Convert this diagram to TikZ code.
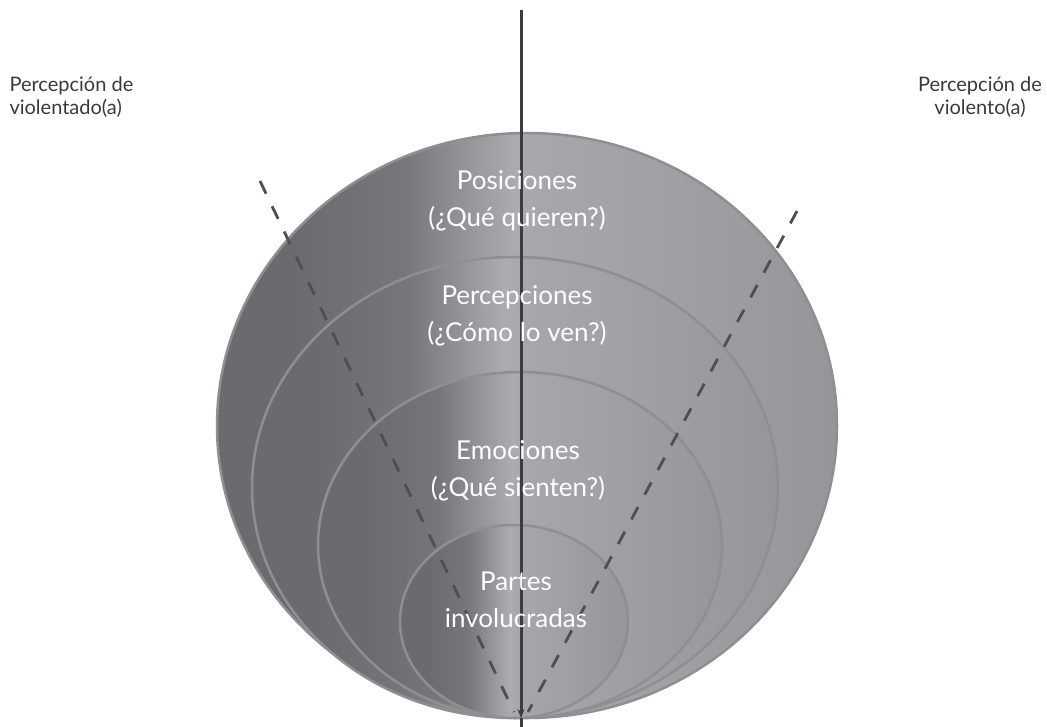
\documentclass[tikz,border=0pt]{standalone}
\usepackage{fontspec}
\setmainfont{Lato}
\usetikzlibrary{arrows.meta}
\definecolor{shA}{HTML}{6A6B6F}
\definecolor{shB}{HTML}{76777B}
\definecolor{shC}{HTML}{ABACB0}
\definecolor{shD}{HTML}{A6A7AB}
\definecolor{shE}{HTML}{9FA0A4}
\definecolor{shF}{HTML}{95969A}
\definecolor{ringc}{HTML}{8E8F93}
\definecolor{linec}{HTML}{3C3C3E}
\definecolor{dashc}{HTML}{4F4F52}
\definecolor{txtc}{HTML}{3A3A3C}
\pgfdeclarehorizontalshading{layershade}{100bp}{color(0bp)=(shA); color(25bp)=(shA); color(31bp)=(shA); color(40bp)=(shB); color(49bp)=(shC); color(51bp)=(shD); color(62bp)=(shE); color(75bp)=(shF); color(100bp)=(shF)}
\begin{document}
\begin{tikzpicture}[x=1pt,y=-1pt,
  layer/.style={draw=ringc, line width=2.5pt, shading=layershade},
  vline/.style={draw=linec, line width=3pt},
  dline/.style={draw=dashc, line width=2.8pt, dash pattern=on 14pt off 14pt},
  intext/.style={text=white, align=center, font=\fontsize{26}{37}\selectfont},
  side/.style={text=txtc, font=\fontsize{20}{23}\selectfont}
]
\useasboundingbox (0,0) rectangle (1047,727);
% nested layers
\path[layer] (527,425.5) ellipse [x radius=310pt, y radius=292.5pt];
\path[layer] (515,487.5) ellipse [x radius=263pt, y radius=230.5pt];
\path[layer] (520,545) ellipse [x radius=202pt, y radius=173pt];
\path[layer] (514,621.5) ellipse [x radius=114pt, y radius=96.5pt];
% dashed lines
\coordinate (dlt) at (260,181);
\coordinate (dlb) at (514,712);
\coordinate (drt) at (797,211);
\coordinate (drb) at (528,712);
\draw[dline] (dlt) -- (dlb);
\draw[dline] (drt) -- (drb);
% vertical axis
\coordinate (vtop) at (521,10);
\coordinate (vtip) at (521,718);
\coordinate (vbot) at (521,727);
\draw[vline, -{Stealth[length=9pt,width=7pt]}] (vtop) -- (vtip);
\draw[vline] (vtip) -- (vbot);
% labels
\node[intext] (pos) at (517,201) {Posiciones\\(¿Qué quieren?)};
\node[intext] (per) at (517,316) {Percepciones\\(¿Cómo lo ven?)};
\node[intext] (emo) at (518,471) {Emociones\\(¿Qué sienten?)};
\node[intext] (par) at (516,600) {Partes\\involucradas};
\node[side, align=left, anchor=west] (lv) at (6,97) {Percepción de\\violentado(a)};
\node[side, align=center] (rv) at (980,97) {Percepción de\\violento(a)};
\end{tikzpicture}
\end{document}
